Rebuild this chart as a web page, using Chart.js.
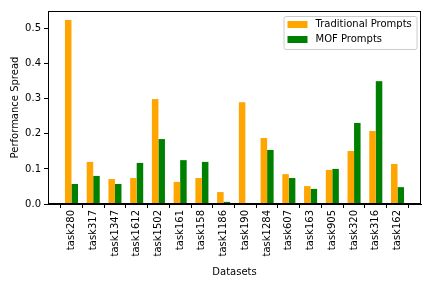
<!DOCTYPE html>
<html>
<head>
<meta charset="utf-8">
<script src="https://cdn.jsdelivr.net/npm/chart.js@4"></script>
<style>
html,body{margin:0;padding:0;background:#fff;}
#wrap{width:432px;height:288px;}
</style>
</head>
<body>
<div id="wrap"><canvas id="c" width="432" height="288"></canvas></div>
<script>
const categories = ["task280","task317","task1347","task1612","task1502","task161","task158","task1186","task190","task1284","task607","task163","task905","task320","task316","task162"];
const traditional = [0.524,0.120,0.071,0.074,0.299,0.063,0.074,0.034,0.290,0.188,0.085,0.051,0.097,0.151,0.208,0.114];
const mof = [0.057,0.080,0.057,0.117,0.185,0.125,0.120,0.006,0.003,0.154,0.074,0.043,0.100,0.231,0.350,0.048];
const yTicks = [0.0,0.1,0.2,0.3,0.4,0.5];
const seriesNames = ["Traditional Prompts","MOF Prompts"];
const colors = ["#FFA500","#008000"];

const FONT = "'DejaVu Sans', sans-serif";

const framePlugin = {
  id:'frame',
  afterDraw(chart){
    const {ctx, chartArea:a} = chart;
    ctx.save();
    ctx.strokeStyle = '#000';
    ctx.lineWidth = 1;
    ctx.strokeRect(Math.round(a.left)+0.5, Math.round(a.top)+0.5, Math.round(a.right-a.left)-1, Math.round(a.bottom-a.top)-1);
    // legend
    const bw = 133, bh = 33;
    const bx = a.right - 4.5 - bw, by = a.top + 5;
    ctx.fillStyle = 'rgba(255,255,255,0.8)';
    ctx.strokeStyle = '#cccccc';
    ctx.beginPath();
    if (ctx.roundRect) ctx.roundRect(bx+0.5, by+0.5, bw, bh, 2); else ctx.rect(bx+0.5,by+0.5,bw,bh);
    ctx.fill(); ctx.stroke();
    ctx.font = "10px " + FONT;
    ctx.textBaseline = 'middle';
    ctx.textAlign = 'left';
    chart.data.datasets.forEach((ds,i)=>{
      const yy = by + 5 + i*15;
      ctx.fillStyle = ds.backgroundColor;
      ctx.fillRect(bx+4, yy, 20, 7);
      ctx.fillStyle = '#000';
      ctx.fillText(ds.label, bx+32, yy+3.5);
    });
    ctx.restore();
  }
};

new Chart(document.getElementById('c'), {
  type:'bar',
  data:{
    datasets:[
      {label:seriesNames[0], data: traditional.map((v,i)=>({x:i,y:v})), backgroundColor:colors[0], borderWidth:0},
      {label:seriesNames[1], data: mof.map((v,i)=>({x:i,y:v})), backgroundColor:colors[1], borderWidth:0}
    ]
  },
  options:{
    responsive:false,
    animation:false,
    events:[],
    layout:{padding:{top:11,right:11,left:0,bottom:0}},
    datasets:{bar:{categoryPercentage:0.6,barPercentage:1.0}},
    plugins:{legend:{display:false},tooltip:{enabled:false}},
    scales:{
      x:{
        type:'linear',
        min:-1.08, max:16.08,
        offset:false,
        afterBuildTicks(s){ s.ticks = categories.map((_,i)=>({value:i})); },
        afterFit(s){ s.height = 84; },
        ticks:{
          autoSkip:false,
          minRotation:90, maxRotation:90,
          color:'#000',
          font:{family:FONT,size:10},
          padding:2,
          callback:(v)=>categories[v]
        },
        grid:{display:true,drawOnChartArea:false,drawTicks:true,tickLength:4,color:'#000'},
        border:{display:true,color:'#000'},
        title:{display:true,text:'Datasets',color:'#000',font:{family:FONT,size:10},padding:{top:4,bottom:10}}
      },
      y:{
        min:0, max:0.55,
        afterBuildTicks(s){ s.ticks = yTicks.map(v=>({value:v})); },
        afterFit(s){ s.width = 48; },
        ticks:{
          color:'#000',
          font:{family:FONT,size:10},
          padding:3,
          callback:(v)=>Number(v).toFixed(1)
        },
        grid:{display:true,drawOnChartArea:false,drawTicks:true,tickLength:4,color:'#000'},
        border:{display:true,color:'#000'},
        title:{display:true,text:'Performance Spread',color:'#000',font:{family:FONT,size:10},padding:{top:9,bottom:4}}
      }
    }
  },
  plugins:[framePlugin]
});
</script>
</body>
</html>
